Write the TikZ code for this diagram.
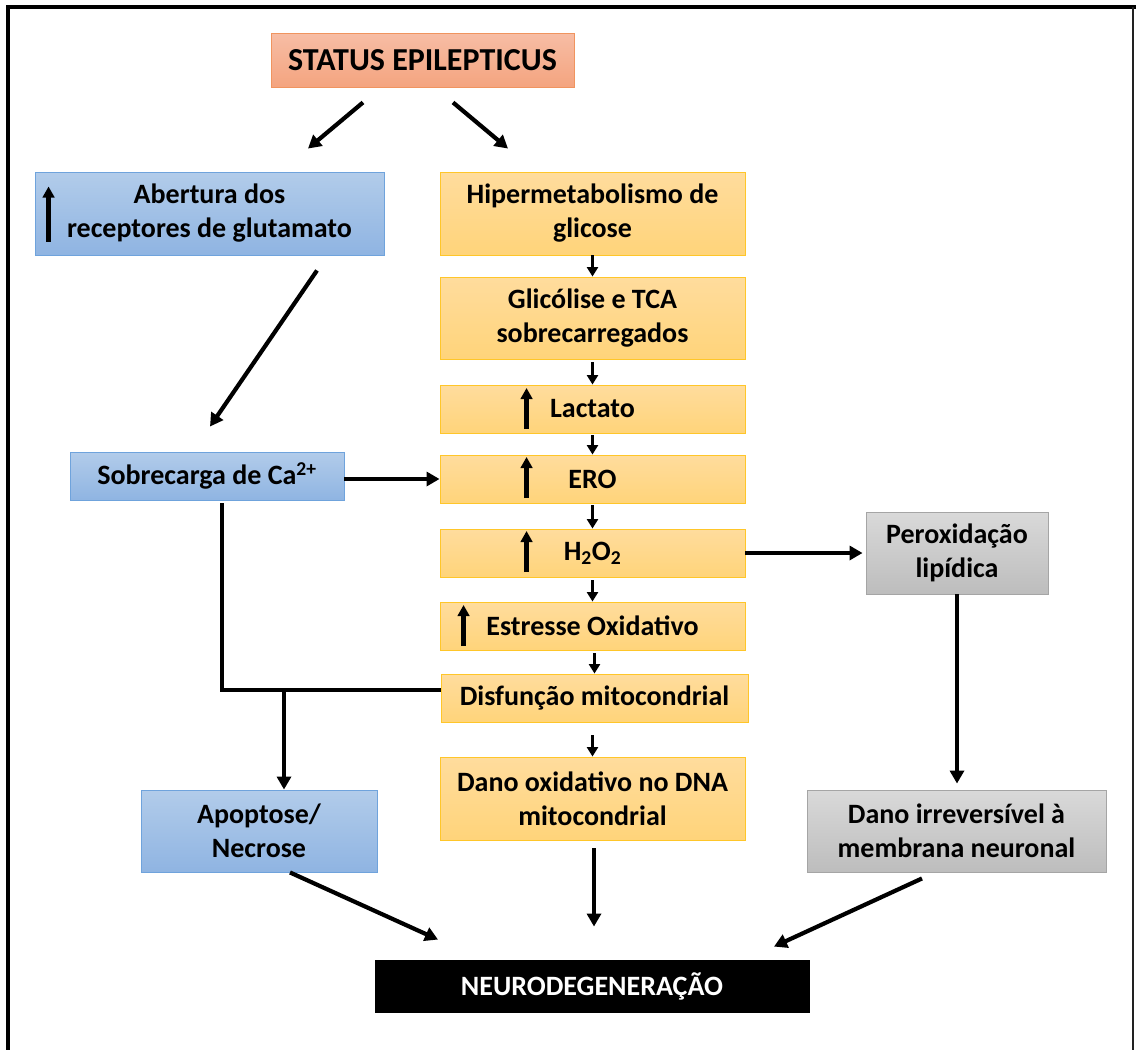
\documentclass[tikz,border=0pt]{standalone}
\usepackage{fontspec}
\setmainfont{Carlito}
\usetikzlibrary{arrows.meta,calc}
\definecolor{stop}{HTML}{F7BDA5}
\definecolor{sbot}{HTML}{F4A47F}
\definecolor{sbord}{HTML}{F0945F}
\definecolor{btop}{HTML}{B2CCEA}
\definecolor{bbot}{HTML}{8FB4E2}
\definecolor{bbord}{HTML}{6FA3DC}
\definecolor{ytop}{HTML}{FFDC9D}
\definecolor{ybot}{HTML}{FFD47A}
\definecolor{ybord}{HTML}{FFC629}
\definecolor{gtop}{HTML}{D9D9D9}
\definecolor{gbot}{HTML}{BDBDBD}
\definecolor{gbord}{HTML}{A5A5A5}
\definecolor{frm}{HTML}{222222}
\begin{document}
\begin{tikzpicture}[x=1pt,y=-1pt,
  box/.style={draw, line width=0.9pt, align=center, inner sep=0pt, text=black,
    font=\fontsize{28}{34}\selectfont\bfseries},
  salbox/.style={box, draw=sbord, top color=stop, bottom color=sbot},
  bluebox/.style={box, draw=bbord, top color=btop, bottom color=bbot},
  yelbox/.style={box, draw=ybord, top color=ytop, bottom color=ybot},
  graybox/.style={box, draw=gbord, top color=gtop, bottom color=gbot},
  blackbox/.style={box, draw=black, fill=black, text=white, font=\fontsize{28}{32}\selectfont\bfseries},
  arr/.style={line width=4.2pt, -{Triangle[length=13pt,width=14pt]}},
  sarr/.style={line width=3.4pt, -{Triangle[length=9.5pt,width=11pt]}},
  uparr/.style={line width=4.2pt, -{Triangle[length=11pt,width=11.5pt]}},
  conn/.style={line width=4.2pt, line join=miter}
]
\useasboundingbox (0,0) rectangle (1136,1050);
% frame
\draw[line width=4pt, black] (7.5,1050) -- (7.5,7) -- (1136,7);
\draw[line width=1.6pt, frm] (1133,7) -- (1133,1050);

% nodes
\node[salbox, minimum width=303, minimum height=54, font=\fontsize{32}{36}\selectfont\bfseries] (st) at (422.5,60) {STATUS EPILEPTICUS};
\node[bluebox, minimum width=349, minimum height=83] (ab) at (209.5,213.5) {Abertura dos\\receptores de glutamato};
\node[yelbox, minimum width=305, minimum height=83] (hy) at (592.5,213.5) {Hipermetabolismo de\\glicose};
\node[yelbox, minimum width=305, minimum height=82] (gl) at (592.5,318) {Glicólise e TCA\\sobrecarregados};
\node[yelbox, minimum width=305, minimum height=48] (la) at (592.5,409) {Lactato};
\node[yelbox, minimum width=305, minimum height=48] (er) at (592.5,479) {ERO};
\node[yelbox, minimum width=305, minimum height=48] (hp) at (592.5,553) {H\textsubscript{2}O\textsubscript{2}};
\node[yelbox, minimum width=305, minimum height=48] (es) at (592.5,626) {Estresse Oxidativo};
\node[yelbox, minimum width=307, minimum height=48] (di) at (594.5,698) {Disfunção mitocondrial};
\node[yelbox, minimum width=305, minimum height=83] (dn) at (592.5,798.5) {Dano oxidativo no DNA\\mitocondrial};
\node[bluebox, minimum width=274, minimum height=48] (ca) at (207,476) {Sobrecarga de Ca\textsuperscript{2+}};
\node[bluebox, minimum width=236, minimum height=82] (ap) at (259,831) {Apoptose/\\Necrose};
\node[graybox, minimum width=182, minimum height=82] (pe) at (957,553) {Peroxidação\\lipídica};
\node[graybox, minimum width=299, minimum height=82] (da) at (956.5,831) {Dano irreversível à\\membrana neuronal};
\node[blackbox, minimum width=434, minimum height=52] (ne) at (592,986) {NEURODEGENERAÇÃO};

% up arrows inside boxes
\draw[uparr] ($(ab.west)+(14,28)$) -- ($(ab.west)+(14,-27)$);
\draw[uparr] ($(la.west)+(87,20)$) -- ($(la.west)+(87,-21)$);
\draw[uparr] ($(er.west)+(87,19)$) -- ($(er.west)+(87,-22)$);
\draw[uparr] ($(hp.west)+(87,19)$) -- ($(hp.west)+(87,-22)$);
\draw[uparr] ($(es.west)+(24,20)$) -- ($(es.west)+(24,-21)$);

% connectors
\draw[arr] ($(st.south)+(-59.5,15)$) -- ($(ab.north)+(98.5,-23)$);
\draw[arr] ($(st.south)+(30.5,15)$) -- ($(hy.north)+(-84.5,-23)$);
\draw[arr] ($(ab.south)+(107.5,15)$) -- ($(ca.north)+(3,-25)$);
\draw[arr] (ca.east |- er.west) -- (er.west);

\draw[sarr] (hy) -- (gl);
\draw[sarr] ($(gl.south)+(0,3)$) -- (la.north);
\draw[sarr] ($(la.south)+(0,2)$) -- (er.north);
\draw[sarr] ($(er.south)+(0,2)$) -- (hp.north);
\draw[sarr] ($(hp.south)+(0,3)$) -- (hp.south |- es.north);
\draw[sarr] ($(es.south)+(2,3)$) -- ($(es.south |- di.north)+(2,0)$);
\draw[sarr] ($(di.south)+(-2,13)$) -- ($(di.south |- dn.north)+(-2,0)$);

\draw[conn] ($(ca.south)+(15,3)$) |- ($(di.west)+(0,-8)$);
\coordinate (j) at ($(ap.north)+(25,-100)$);
\draw[arr] (j) -- (j |- ap.north);

\draw[arr] (hp.east) -- ($(pe.west)+(-3,0)$);
\draw[arr] (pe.south) -- ($(da.north)+(0.5,-6)$);

\draw[arr] ($(ap.south)+(31,0)$) -- ($(ne.north)+(-154,-20)$);
\draw[arr] ($(dn.south)+(1.5,8)$) -- ($(ne.north)+(2,-33)$);
\draw[arr] ($(da.south)+(-34.5,6)$) -- ($(ne.north)+(182,-13)$);
\end{tikzpicture}
\end{document}
